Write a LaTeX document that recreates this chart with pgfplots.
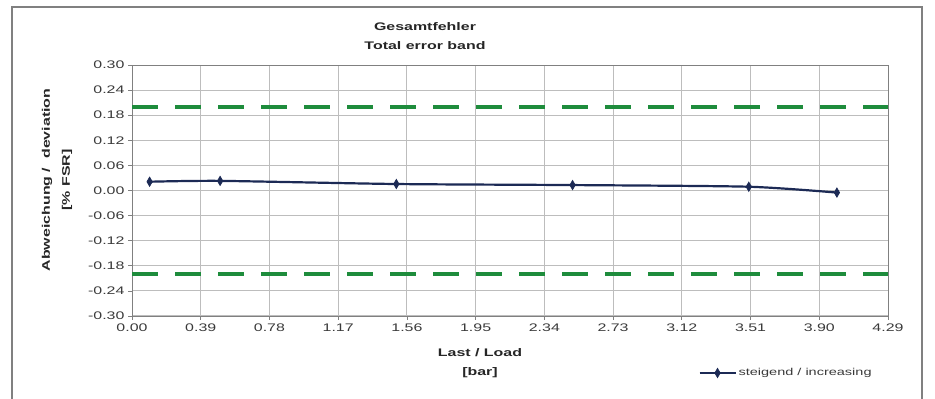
\documentclass[border=0pt]{standalone}
\usepackage{fontspec}
\setmainfont{Liberation Sans}[FakeStretch=1.45]
\usepackage{pgfplots}
\pgfplotsset{compat=1.18}
\definecolor{navy}{HTML}{1C2A55}
\definecolor{dgreen}{HTML}{1E8C3C}
\definecolor{gridc}{HTML}{BDBDBD}
\definecolor{tickc}{HTML}{3A3A3A}
\begin{document}
\begin{tikzpicture}[x=1pt,y=1pt]
\useasboundingbox (0,0) rectangle (935,399);
\draw[color=gray, line width=1.3pt] (12,-5) -- (12,392) -- (922,392) -- (922,-5);
\begin{axis}[
  at={(132pt,83pt)}, anchor=south west,
  scale only axis, width=756pt, height=251pt,
  xmin=0, xmax=4.29, ymin=-0.30, ymax=0.30,
  xtick={0,0.39,0.78,1.17,1.56,1.95,2.34,2.73,3.12,3.51,3.90,4.29},
  xticklabels={0.00,0.39,0.78,1.17,1.56,1.95,2.34,2.73,3.12,3.51,3.90,4.29},
  ytick={-0.30,-0.24,-0.18,-0.12,-0.06,0,0.06,0.12,0.18,0.24,0.30},
  yticklabels={-0.30,-0.24,-0.18,-0.12,-0.06,0.00,0.06,0.12,0.18,0.24,0.30},
  grid=major, major grid style={color=gridc, line width=1pt},
  axis line style={color=gray, line width=0.9pt},
  tick align=outside, major tick length=4pt,
  tick style={color=gray, line width=0.8pt},
  xtick pos=bottom, ytick pos=left,
  ticklabel style={font=\fontsize{11}{13}\selectfont, text=tickc},
  legend style={at={(0.745,-0.227)}, anchor=west, draw=none, fill=none,
     font=\fontsize{10}{12}\selectfont, text=tickc},
  legend image code/.code={\draw[mark repeat=2,mark phase=2,#1] plot coordinates {(0pt,0pt) (18pt,0pt) (36pt,0pt)};},
  clip=false,
]
\addplot[forget plot, color=dgreen, line width=4.5pt, dash pattern=on 26pt off 17pt] coordinates {(0,0.20) (4.29,0.20)};
\addplot[forget plot, color=dgreen, line width=4.5pt, dash pattern=on 26pt off 17pt] coordinates {(0,-0.20) (4.29,-0.20)};
\addplot[color=navy, line width=2.2pt, smooth, tension=0.4, mark=diamond*, mark size=3.5pt, mark options={fill=navy, solid, line width=0.8pt, yscale=1.3}] coordinates {
 (0.1,0.021) (0.5,0.023) (1.5,0.0155) (2.5,0.013) (3.5,0.009) (4.0,-0.005)};
\addlegendentry{steigend / increasing}
\end{axis}
\node[font=\bfseries\fontsize{11}{13}\selectfont, text=black!85] at (425,372) {Gesamtfehler};
\node[font=\bfseries\fontsize{11}{13}\selectfont, text=black!85] at (425,353) {Total error band};
\node[font=\bfseries\fontsize{11}{13}\selectfont, text=black!85] at (480,46) {Last / Load};
\node[font=\bfseries\fontsize{11}{13}\selectfont, text=black!85] at (480,26) {[bar]};
\node[font=\bfseries\fontsize{11}{13}\selectfont, text=black!85, rotate=90] at (47,219) {Abweichung /\ \ deviation};
\node[font=\bfseries\fontsize{11}{13}\selectfont, text=black!85, rotate=90] at (67,219) {[\% FSR]};
\end{tikzpicture}
\end{document}
